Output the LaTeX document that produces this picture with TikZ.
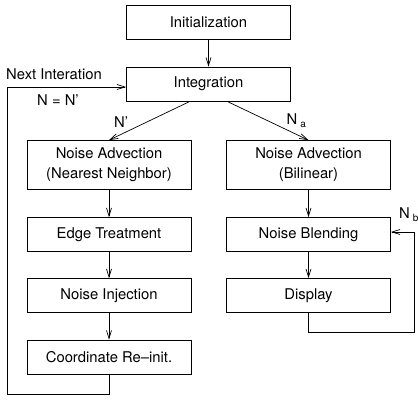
\documentclass[tikz,border=0pt]{standalone}
\usepackage{fontspec}
\setmainfont{TeX Gyre Heros}
\usetikzlibrary{arrows.meta, positioning}
\tikzset{
    stepBox/.style={draw=black, line width=0.7pt, minimum width=164pt, minimum height=34pt, align=center, inner sep=2pt},
    flowArr/.style={-{Straight Barb[length=8pt, width=5pt]}, line width=0.7pt}
}
\newcommand{\lowsub}[1]{\hspace{3pt}\raisebox{-3pt}{\fontsize{10}{10}\selectfont #1}}

\begin{document}
\begin{tikzpicture}[x=1pt, y=-1pt, font=\fontsize{14.8}{20}\selectfont]
    \useasboundingbox (0,0) rectangle (418,401);
    % --- Boxes ---
    \node[stepBox] (init) at (208.5,22.5) {Initialization};
    \node[stepBox] (integ) at (208.5,84) {Integration};
    \node[stepBox, minimum height=49pt] (advnn) at (109,165) {Noise Advection\\(Nearest Neighbor)};
    \node[stepBox, minimum height=49pt] (advbl) at (308.5,165) {Noise Advection\\(Bilinear)};
    \node[stepBox] (edge) at (109,234.5) {Edge Treatment};
    \node[stepBox] (blend) at (308.5,234.5) {Noise Blending};
    \node[stepBox] (inject) at (109,295.5) {Noise Injection};
    \node[stepBox] (display) at (308.5,295.5) {Display};
    \node[stepBox] (reinit) at (109,357) {Coordinate Re--init.};
    % --- Loop corners ---
    \coordinate (loopL) at (7,394);
    \coordinate (loopR) at (414,332);
    % --- Connectors ---
    \draw[flowArr] (init) -- (integ);
    \draw[flowArr] ([xshift=-18.5pt]integ.south) -- (advnn.north) node[pos=0.85, above=3pt]{N'};
    \draw[flowArr] ([xshift=18.5pt]integ.south) -- (advbl.north) node[pos=0.85, above=3pt]{N\lowsub{a}};
    \draw[flowArr] (advnn) -- (edge);
    \draw[flowArr] (edge) -- (inject);
    \draw[flowArr] (inject) -- (reinit);
    \draw[flowArr] (advbl) -- (blend);
    \draw[flowArr] (blend) -- (display);
    \draw[flowArr] (reinit.south) |- (loopL) |- ([yshift=-3pt]integ.west);
    \draw[flowArr] (display.south) |- (loopR) |- ([yshift=2.5pt]blend.east);
    % --- Labels ---
    \node[anchor=west, inner sep=0pt] (nextlbl) at (6,74) {Next Interation};
    \node (nlbl) at (58,100) {N = N'};
    \node[anchor=west, inner sep=0pt] (nblbl) at (399,215) {N\lowsub{b}};
\end{tikzpicture}
\end{document}
